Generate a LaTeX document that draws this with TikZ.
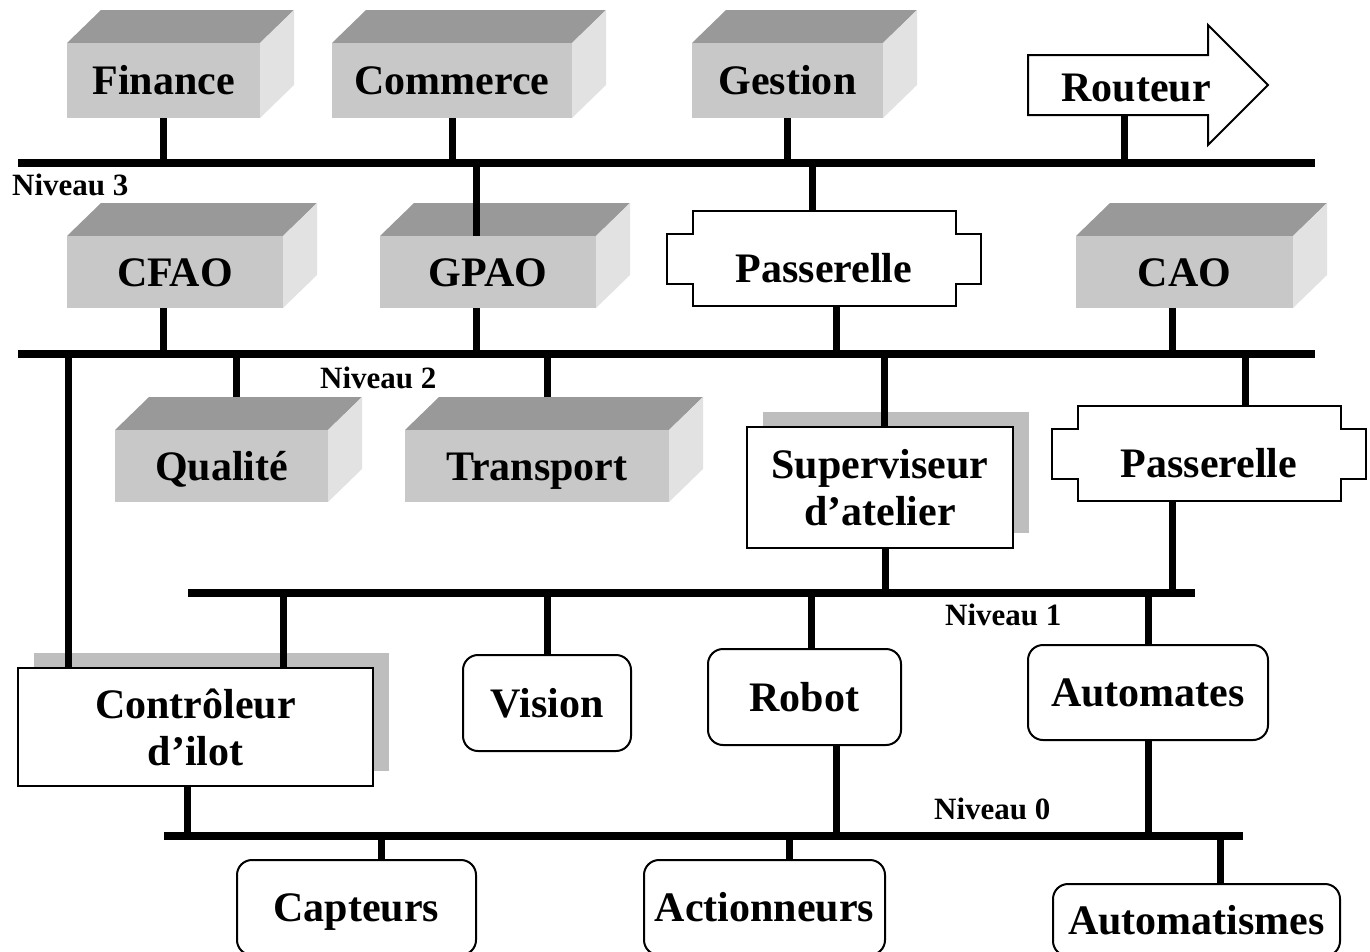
\documentclass[tikz,border=0pt]{standalone}
\usepackage{fontspec}
\setmainfont{Liberation Serif}
\usetikzlibrary{calc,shadows}

\definecolor{cubefront}{HTML}{C8C8C8}
\definecolor{cubetop}{HTML}{999999}
\definecolor{cubeside}{HTML}{E2E2E2}
\definecolor{shadowgray}{HTML}{BEBEBE}

\tikzset{
  bus/.style={line width=8pt},
  stem/.style={line width=7pt},
  lbl/.style={font=\fontsize{42}{47}\selectfont\bfseries},
  oneline/.style={text height=28pt, text depth=0pt},
  cubeface/.style={fill=cubefront, draw=none, inner sep=0pt, outer sep=0pt, lbl, oneline},
  outline/.style={draw=black, line width=2pt},
  plainbox/.style={outline, fill=white, inner sep=0pt, outer sep=0pt, lbl, align=center},
  roundbox/.style={plainbox, rounded corners=15pt, oneline},
  shadowed/.style={drop shadow={shadow xshift=16pt, shadow yshift=15pt, fill=shadowgray, opacity=1}},
  level/.style={font=\fontsize{31}{36}\selectfont\bfseries, anchor=base west, inner sep=0pt},
}

% Grey block drawn in perspective: name, left, top, right, bottom, text
\newcommand{\solidblock}[6]{%
  \fill[cubetop] (#2,#3) -- (#4,#3) -- (#4+34,#3-33) -- (#2+34,#3-33) -- cycle;
  \fill[cubeside] (#4,#3) -- (#4+34,#3-33) -- (#4+34,#5-33) -- (#4,#5) -- cycle;
  \node[cubeface, minimum width={(#4-#2)*1pt}, minimum height={(#5-#3)*1pt}]
    (#1) at ({(#2+#4)/2},{(#3+#5)/2}) {#6};
}

% Gateway outline around a named text node
\newcommand{\gatewayshape}[1]{%
  \draw[outline, shift={(#1.center)}]
    (-131,-57) -- (132,-57) -- (132,-34) -- (157,-34) -- (157,16) -- (132,16)
    -- (132,38) -- (-131,38) -- (-131,16) -- (-157,16) -- (-157,-34) -- (-131,-34) -- cycle;
}

\begin{document}
\begin{tikzpicture}[x=1pt,y=-1pt]
\useasboundingbox (0,0) rectangle (1370,951);

% ---------- network buses ----------
\coordinate (b3w) at (18,163);  \coordinate (b3e) at (1315,163);
\coordinate (b2w) at (18,354);  \coordinate (b2e) at (1315,354);
\coordinate (b1w) at (188,593); \coordinate (b1e) at (1195,593);
\coordinate (b0w) at (164,836); \coordinate (b0e) at (1243,836);
\draw[bus] (b3w) -- (b3e);
\draw[bus] (b2w) -- (b2e);
\draw[bus] (b1w) -- (b1e);
\draw[bus] (b0w) -- (b0e);

\node[level] (n3) at (12,195) {Niveau 3};
\node[level] (n2) at (320,388) {Niveau 2};
\node[level] (n1) at (945,625) {Niveau 1};
\node[level] (n0) at (934,819) {Niveau 0};

% ---------- level 3 ----------
\solidblock{fin}{67}{43}{260}{118}{Finance}
\solidblock{com}{332}{43}{572}{118}{Commerce}
\solidblock{ges}{692}{43}{883}{118}{Gestion}
\node[lbl, oneline] (rout) at (1136,87) {Routeur};
\draw[outline, shift={(rout.center)}]
  (-108,-32) -- (72,-32) -- (72,-62) -- (132,-2) -- (72,58) -- (72,28) -- (-108,28) -- cycle;

% ---------- level 2 ----------
\solidblock{cfao}{67}{236}{283}{308}{CFAO}
\solidblock{gpao}{380}{236}{596}{308}{GPAO}
\solidblock{cao}{1076}{236}{1293}{308}{CAO}
\node[lbl, oneline] (pas1) at (824,268) {Passerelle};
\gatewayshape{pas1}

\solidblock{qual}{115}{430}{328}{502}{Qualité}
\solidblock{trans}{405}{430}{669}{502}{Transport}
\node[plainbox, shadowed, minimum width=266pt, minimum height=121pt]
  (sup) at (880,487.5) {Superviseur\\d’atelier};
\node[lbl, oneline] (pas2) at (1209,463) {Passerelle};
\gatewayshape{pas2}

% ---------- level 1 ----------
\node[plainbox, shadowed, minimum width=355pt, minimum height=118pt]
  (ctrl) at (195.5,727) {Contrôleur\\d’ilot};
\node[roundbox, minimum width=168pt, minimum height=96pt] (vis) at (547,703) {Vision};
\node[roundbox, minimum width=193pt, minimum height=96pt] (rob) at (804.5,697) {Robot};
\node[roundbox, minimum width=240pt, minimum height=95pt] (aut) at (1148,692.5) {Automates};

% ---------- level 0 ----------
\node[roundbox, minimum width=239pt, minimum height=95pt] (cap) at (356.5,907.5) {Capteurs};
\node[roundbox, minimum width=241pt, minimum height=95pt] (act) at (764.5,907.5) {Actionneurs};
\node[roundbox, minimum width=287pt, minimum height=72pt] (autm) at (1196.5,920) {Automatismes};

% ---------- attachment points ----------
\coordinate (routfoot) at ($(rout.center)+(-12,28)$);
\coordinate (gpaotop)  at ($(gpao.north)+(-12,0)$);
\coordinate (gpaobot)  at ($(gpao.south)+(-12,0)$);
\coordinate (cfaobot)  at ($(cfao.south)+(-12,0)$);
\coordinate (caobot)   at ($(cao.south)+(-12,0)$);
\coordinate (p1top)    at ($(pas1.center)+(-12,-57)$);
\coordinate (p1bot)    at ($(pas1.center)+(12,38)$);
\coordinate (p2top)    at ($(pas2.center)+(36,-57)$);
\coordinate (p2bot)    at ($(pas2.center)+(-37,38)$);
\coordinate (qualtop)  at ($(qual.north)+(14.5,-33)$);
\coordinate (transtop) at ($(trans.north)+(10,-33)$);
\coordinate (suptop)   at ($(sup.north)+(4,0)$);
\coordinate (supbot)   at ($(sup.south)+(5,0)$);
\coordinate (ctrlA)    at ($(ctrl.north west)+(50,0)$);
\coordinate (ctrlB)    at ($(ctrl.north west)+(265,0)$);
\coordinate (ctrlbot)  at ($(ctrl.south)+(-8,0)$);
\coordinate (robtop)   at ($(rob.north)+(7,0)$);
\coordinate (robbot)   at ($(rob.south)+(32,0)$);
\coordinate (captop)   at ($(cap.north)+(25,0)$);
\coordinate (acttop)   at ($(act.north)+(25,0)$);
\coordinate (autmtop)  at ($(autm.north)+(24,0)$);

% ---------- stems to bus 3 ----------
\draw[stem] (fin.south) -- (fin.south |- b3w);
\draw[stem] (com.south) -- (com.south |- b3w);
\draw[stem] (ges.south) -- (ges.south |- b3w);
\draw[stem] (routfoot) -- (routfoot |- b3w);
\draw[stem] (gpaotop) -- (gpaotop |- b3w);
\draw[stem] (p1top) -- (p1top |- b3w);

% ---------- stems to bus 2 ----------
\draw[stem] (cfaobot) -- (cfaobot |- b2w);
\draw[stem] (gpaobot) -- (gpaobot |- b2w);
\draw[stem] (p1bot) -- (p1bot |- b2w);
\draw[stem] (caobot) -- (caobot |- b2w);
\draw[stem] (ctrlA) -- (ctrlA |- b2w);
\draw[stem] (qualtop) -- (qualtop |- b2w);
\draw[stem] (transtop) -- (transtop |- b2w);
\draw[stem] (suptop) -- (suptop |- b2w);
\draw[stem] (p2top) -- (p2top |- b2w);

% ---------- stems to bus 1 ----------
\draw[stem] (supbot) -- (supbot |- b1w);
\draw[stem] (p2bot) -- (p2bot |- b1w);
\draw[stem] (ctrlB) -- (ctrlB |- b1w);
\draw[stem] (vis.north) -- (vis.north |- b1w);
\draw[stem] (robtop) -- (robtop |- b1w);
\draw[stem] (aut.north) -- (aut.north |- b1w);

% ---------- stems to bus 0 ----------
\draw[stem] (ctrlbot) -- (ctrlbot |- b0w);
\draw[stem] (robbot) -- (robbot |- b0w);
\draw[stem] (aut.south) -- (aut.south |- b0w);
\draw[stem] (captop) -- (captop |- b0w);
\draw[stem] (acttop) -- (acttop |- b0w);
\draw[stem] (autmtop) -- (autmtop |- b0w);
\end{tikzpicture}
\end{document}
